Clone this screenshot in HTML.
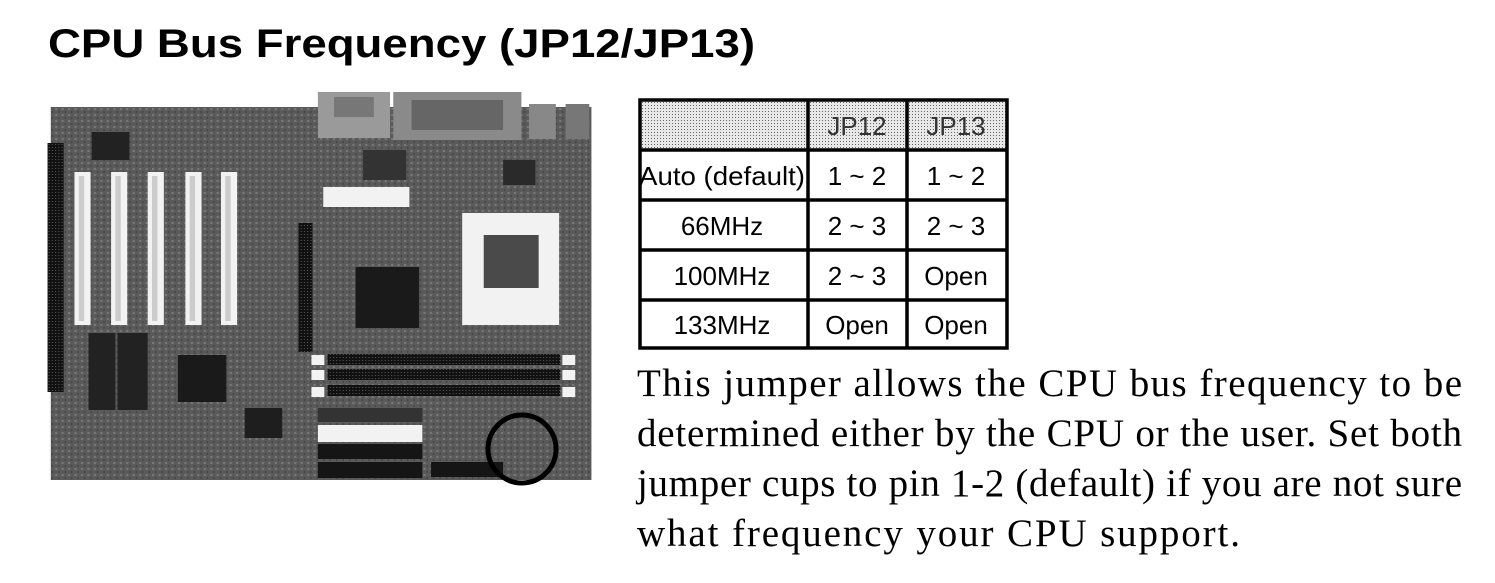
<!DOCTYPE html>
<html><head><meta charset="utf-8"><style>
html,body{margin:0;padding:0;background:#fff;}
svg{display:block}
</style></head><body>
<svg width="1495" height="583" viewBox="0 0 1495 583" xmlns="http://www.w3.org/2000/svg">
<defs>
<pattern id="dots" width="3" height="3" patternUnits="userSpaceOnUse">
<rect width="3" height="3" fill="#e8e8e8"/><rect width="1" height="1" fill="#666"/>
</pattern>
<pattern id="pcb" width="6" height="6" patternUnits="userSpaceOnUse">
<rect width="6" height="6" fill="#5a5a5a"/><rect x="0" y="0" width="2" height="2" fill="#787878"/><rect x="3" y="3" width="1" height="2" fill="#3e3e3e"/>
</pattern>
<pattern id="pins" width="3" height="3" patternUnits="userSpaceOnUse">
<rect width="3" height="3" fill="#111"/><rect width="1" height="1" fill="#555"/>
</pattern>
</defs>
<text x="48" y="57" font-family="Liberation Sans, sans-serif" font-weight="bold" font-size="40" textLength="707" lengthAdjust="spacingAndGlyphs">CPU Bus Frequency (JP12/JP13)</text>

<!-- motherboard -->
<g transform="matrix(1.077,0,0,1,-3.08,0)">
<rect x="50" y="107" width="502" height="373" fill="url(#pcb)"/>
<rect x="298" y="92" width="67" height="46" fill="#9a9a9a"/>
<rect x="313" y="97" width="37" height="20" fill="#777"/>
<rect x="368" y="92" width="119" height="48" fill="#8a8a8a"/>
<rect x="385" y="100" width="85" height="30" fill="#666"/>
<rect x="494" y="104" width="25" height="35" fill="#888"/>
<rect x="528" y="104" width="22" height="35" fill="#777"/>
<rect x="47" y="143" width="15" height="249" fill="url(#pins)"/>
<g fill="#f2f2f2">
<rect x="72" y="172" width="15" height="153"/><rect x="106" y="172" width="15" height="153"/>
<rect x="140" y="172" width="15" height="153"/><rect x="175" y="172" width="15" height="153"/>
<rect x="208" y="172" width="15" height="153"/>
<rect x="303" y="187" width="80" height="20"/>
<rect x="432" y="213" width="90" height="112"/>
<rect x="298" y="425" width="97" height="17"/>
<rect x="292" y="355" width="12" height="10"/><rect x="292" y="370" width="12" height="10"/><rect x="292" y="387" width="12" height="10"/>
<rect x="525" y="355" width="12" height="10"/><rect x="525" y="370" width="12" height="10"/><rect x="525" y="387" width="12" height="10"/>
</g>
<rect x="76" y="176" width="5" height="145" fill="#ccc"/><rect x="110" y="176" width="5" height="145" fill="#ccc"/>
<rect x="144" y="176" width="5" height="145" fill="#ccc"/><rect x="179" y="176" width="5" height="145" fill="#ccc"/>
<rect x="212" y="176" width="5" height="145" fill="#ccc"/>
<rect x="452" y="235" width="51" height="53" fill="#4a4a4a"/>
<rect x="280" y="223" width="13" height="129" fill="url(#pins)"/>
<rect x="333" y="267" width="59" height="61" fill="#1a1a1a"/>
<rect x="168" y="355" width="45" height="47" fill="#1a1a1a"/>
<rect x="85" y="333" width="25" height="77" fill="#222"/>
<rect x="112" y="333" width="28" height="77" fill="#222"/>
<rect x="88" y="132" width="35" height="28" fill="#222"/>
<rect x="307" y="354" width="216" height="11" fill="url(#pins)"/>
<rect x="307" y="369" width="216" height="11" fill="url(#pins)"/>
<rect x="307" y="385" width="216" height="11" fill="url(#pins)"/>
<rect x="298" y="408" width="97" height="14" fill="#333"/>
<rect x="298" y="444" width="97" height="15" fill="#151515"/>
<rect x="298" y="462" width="97" height="16" fill="#151515"/>
<rect x="403" y="462" width="67" height="15" fill="#151515"/>
<rect x="230" y="408" width="35" height="30" fill="#1e1e1e"/>
<rect x="340" y="150" width="40" height="30" fill="#333"/>
<rect x="470" y="160" width="30" height="25" fill="#2a2a2a"/>
</g>
<circle cx="522" cy="449" r="34" fill="none" stroke="#000" stroke-width="5"/>

<!-- table -->
<rect x="640" y="100" width="367" height="50" fill="url(#dots)"/>
<g stroke="#000" stroke-width="3.5" fill="none">
<rect x="640" y="100" width="367" height="248"/>
<line x1="640" y1="150" x2="1007" y2="150"/><line x1="640" y1="200" x2="1007" y2="200"/>
<line x1="640" y1="250" x2="1007" y2="250"/><line x1="640" y1="300" x2="1007" y2="300"/>
<line x1="808" y1="100" x2="808" y2="348"/><line x1="907" y1="100" x2="907" y2="348"/>
</g>
<g font-family="Liberation Sans, sans-serif" font-size="26" text-anchor="middle">
<text x="857" y="135" fill="#333">JP12</text><text x="956" y="135" fill="#333">JP13</text>
<text x="722" y="185" textLength="166" lengthAdjust="spacingAndGlyphs">Auto (default)</text><text x="857" y="185">1 ~ 2</text><text x="956" y="185">1 ~ 2</text>
<text x="722" y="235">66MHz</text><text x="857" y="235">2 ~ 3</text><text x="956" y="235">2 ~ 3</text>
<text x="722" y="285">100MHz</text><text x="857" y="285">2 ~ 3</text><text x="956" y="285">Open</text>
<text x="722" y="334">133MHz</text><text x="857" y="334">Open</text><text x="956" y="334">Open</text>
</g>
<g font-family="Liberation Serif, serif" font-size="39">
<text x="637" y="396" textLength="825" lengthAdjust="spacing">This jumper allows the CPU bus frequency to be</text>
<text x="637" y="446" textLength="825" lengthAdjust="spacing">determined either by the CPU or the user. Set both</text>
<text x="637" y="496" textLength="825" lengthAdjust="spacing">jumper cups to pin 1-2 (default) if you are not sure</text>
<text x="637" y="546" textLength="603" lengthAdjust="spacing">what frequency your CPU support.</text>
</g>
</svg>
</body></html>
